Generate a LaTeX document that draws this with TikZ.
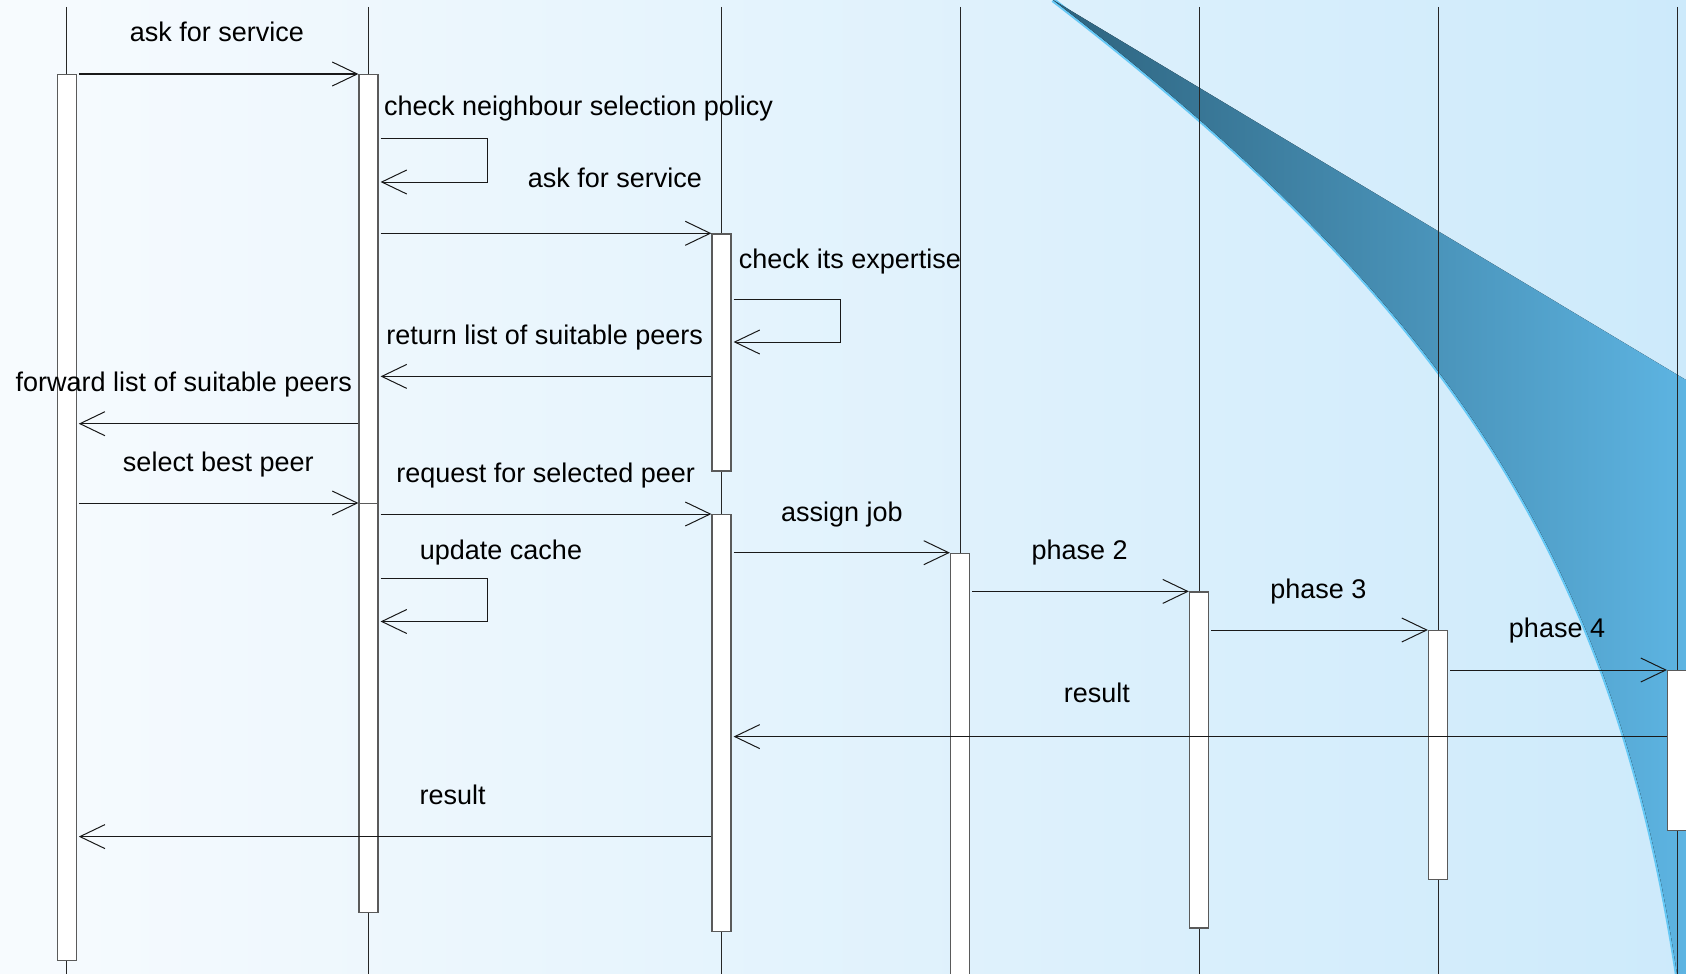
\documentclass[tikz,border=0pt]{standalone}
\usepackage{fontspec}
\setmainfont{Liberation Sans}
\usetikzlibrary{arrows.meta,calc}

\definecolor{bgleft}{RGB}{247,251,254}
\definecolor{bgright}{RGB}{205,234,251}
\definecolor{swdark}{RGB}{45,99,126}
\definecolor{swlight}{RGB}{93,180,226}
\definecolor{swedge}{RGB}{102,200,245}
\definecolor{boxline}{RGB}{90,90,90}

\tikzset{
  lifeline/.style={draw=black!85, line width=0.9pt},
  actbox/.style={draw=boxline, fill=white, line width=1.2pt, minimum width=19pt,
                 inner sep=0pt, anchor=north},
  msg/.style={draw=black!90, line width=1pt,
              -{Straight Barb[length=25pt,width=24pt,line width=1pt]}},
  lbl/.style={font=\fontsize{27}{32}\selectfont, inner sep=0pt, text=black},
}

\begin{document}
\begin{tikzpicture}[x=1pt,y=-1pt]
\useasboundingbox (0,0) rectangle (1686,974);
\clip (0,0) rectangle (1686,974);

% background
\shade[left color=bgleft, right color=bgright] (0,0) rectangle (1686,974);

% decorative swoosh with a light rim along its lower edge
\coordinate (swtip) at (1053,0);
\coordinate (swfoot) at (1677,974);
\draw[swedge, line width=4.5pt] (swtip) .. controls (1433,292.6) and (1612.5,544) .. (swfoot);
\fill[left color=swdark, right color=swlight]
  (swtip) -- (1686,380) -- (1686,974) -- (swfoot)
  .. controls (1612.5,544) and (1433,292.6) .. (swtip) -- cycle;

% lifelines
\foreach \i/\x in {1/66.7,2/368.5,3/721.5,4/960,5/1199,6/1438,7/1677}{
  \coordinate (lt\i) at (\x,7);
  \coordinate (lb\i) at (\x,974);
  \draw[lifeline] (lt\i) -- (lb\i);
}

% activation boxes
\node[actbox, minimum height=886pt] (b1)  at (66.7,74)   {};
\node[actbox, minimum height=429pt] (b2a) at (368.5,74)  {};
\node[actbox, minimum height=409pt] (b2b) at (368.5,503) {};
\node[actbox, minimum height=237pt] (b3a) at (721.5,233.3) {};
\node[actbox, minimum height=417pt] (b3b) at (721.5,514) {};
\node[actbox, minimum height=460pt] (b4)  at (960,552.7) {};
\node[actbox, minimum height=336pt] (b5)  at (1199,591.4) {};
\node[actbox, minimum height=249pt] (b6)  at (1438,630) {};
\node[actbox, minimum height=160pt] (b7)  at (1677,670) {};

% message rows and self-call corners
\coordinate (r3) at (0,376.4);
\coordinate (r4) at (0,423.7);
\coordinate (r11) at (0,736.6);
\coordinate (r12) at (0,836.6);
\coordinate (l1a) at (487,138);  \coordinate (l1b) at (487,182);
\coordinate (l2a) at (840,299);  \coordinate (l2b) at (840,342);
\coordinate (l3a) at (487,578.5);\coordinate (l3b) at (487,621.5);

% messages
\draw[msg] ($(b1.east |- b2a.north)+(2,0)$) -- (b2a.north west);
\draw[msg] ($(b2a.east |- l1a)+(2,0)$) -- (l1a) -- (l1b) -- ($(b2a.east |- l1b)+(2,0)$);
\draw[msg] ($(b2a.east |- b3a.north)+(2,0)$) -- (b3a.north west);
\draw[msg] ($(b3a.east |- l2a)+(2,0)$) -- (l2a) -- (l2b) -- ($(b3a.east |- l2b)+(2,0)$);
\draw[msg] (b3a.west |- r3) -- ($(b2a.east |- r3)+(2,0)$);
\draw[msg] (b2a.west |- r4) -- ($(b1.east |- r4)+(2,0)$);
\draw[msg] ($(b1.east |- b2b.north)+(2,0)$) -- (b2b.north west);
\draw[msg] ($(b2b.east |- b3b.north)+(2,0)$) -- (b3b.north west);
\draw[msg] ($(b3b.east |- b4.north)+(2,0)$) -- (b4.north west);
\draw[msg] ($(b2b.east |- l3a)+(2,0)$) -- (l3a) -- (l3b) -- ($(b2b.east |- l3b)+(2,0)$);
\draw[msg] ($(b4.east |- b5.north)+(2,0)$) -- (b5.north west);
\draw[msg] ($(b5.east |- b6.north)+(2,0)$) -- (b6.north west);
\draw[msg] ($(b6.east |- b7.north)+(2,0)$) -- (b7.north west);
\draw[msg] (b7.west |- r11) -- ($(b3b.east |- r11)+(2,0)$);
\draw[msg] (b3b.west |- r12) -- ($(b1.east |- r12)+(2,0)$);

% message labels
\node[lbl, anchor=base] (m1) at (217,42) {ask for service};
\node[lbl, anchor=base west] (m2) at (384,115) {check neighbour selection policy};
\node[lbl, anchor=base] (m3) at (615,187.4) {ask for service};
\node[lbl, anchor=base west] (m4) at (738.7,268) {check its expertise};
\node[lbl, anchor=base] (m5) at (544.7,344.4) {return list of suitable peers};
\node[lbl, anchor=base] (m6) at (183.8,391.7) {forward list of suitable peers};
\node[lbl, anchor=base] (m7) at (218.3,471.3) {select best peer};
\node[lbl, anchor=base] (m8) at (545.7,482) {request for selected peer};
\node[lbl, anchor=base] (m9) at (842,521.8) {assign job};
\node[lbl, anchor=base] (m10) at (501,559.5) {update cache};
\node[lbl, anchor=base] (m11) at (1079.6,559.5) {phase 2};
\node[lbl, anchor=base] (m12) at (1318.3,598.2) {phase 3};
\node[lbl, anchor=base] (m13) at (1557,637) {phase 4};
\node[lbl, anchor=base] (m14) at (1096.8,702.5) {result};
\node[lbl, anchor=base] (m15) at (452.7,804.6) {result};
\end{tikzpicture}
\end{document}
